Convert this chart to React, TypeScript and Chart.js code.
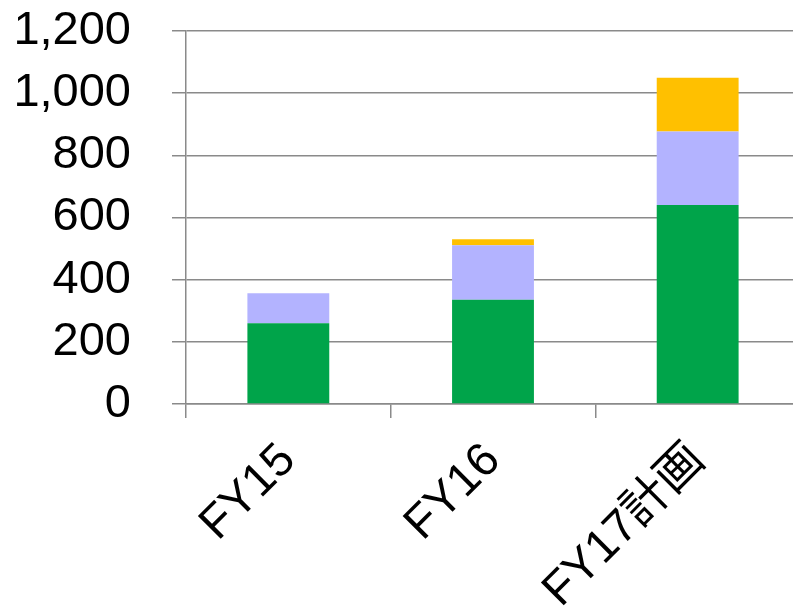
import React, { useEffect, useRef } from "react";
import { Chart, registerables } from "chart.js";

Chart.register(...registerables);

const categories = ["FY15", "FY16", "FY17計画"];
const greenValues = [260, 335, 640];
const purpleValues = [96, 176, 237];
const orangeValues = [0, 19, 173];
const yTicks = [0, 200, 400, 600, 800, 1000, 1200];

const FONT = "'Liberation Sans', Arial, 'Noto Sans CJK JP', sans-serif";
const GRID = "#8a8a8a";

export default function App() {
  const ref = useRef<HTMLCanvasElement | null>(null);

  useEffect(() => {
    document.body.style.margin = "0";
    document.body.style.overflow = "hidden";
    const canvas = ref.current;
    if (!canvas) return;
    const chart = new Chart(canvas, {
      type: "bar",
      data: {
        labels: categories,
        datasets: [
          { label: "A", data: greenValues, backgroundColor: "#00A44A", borderWidth: 0 },
          { label: "B", data: purpleValues, backgroundColor: "#B3B3FF", borderWidth: 0 },
          { label: "C", data: orangeValues, backgroundColor: "#FFC000", borderWidth: 0 },
        ],
      },
      options: {
        responsive: false,
        animation: false,
        devicePixelRatio: 1,
        layout: { padding: { top: 31, left: 0, right: 0, bottom: 0 } },
        plugins: { legend: { display: false }, tooltip: { enabled: false } },
        datasets: { bar: { barPercentage: 0.4, categoryPercentage: 1 } },
        scales: {
          x: {
            stacked: true,
            grid: {
              offset: true,
              drawOnChartArea: false,
              drawTicks: true,
              tickLength: 14,
              color: GRID,
              lineWidth: 1.5,
            },
            border: { display: true, color: GRID, width: 1.5 },
            ticks: {
              minRotation: 45,
              maxRotation: 45,
              padding: 15,
              color: "#000",
              font: { family: FONT, size: 47 },
            },
            afterFit: (scale: any) => {
              scale.height = 208;
              scale.paddingLeft = 0;
              scale.paddingRight = 0;
            },
          },
          y: {
            stacked: true,
            min: 0,
            max: 1200,
            afterBuildTicks: (scale: any) => {
              scale.ticks = yTicks.map((v) => ({ value: v }));
            },
            grid: {
              drawTicks: true,
              tickLength: 14,
              color: GRID,
              lineWidth: 1.5,
            },
            border: { display: true, color: GRID, width: 1.5 },
            ticks: {
              padding: 41,
              color: "#000",
              font: { family: FONT, size: 47 },
              callback: (v: any) => Number(v).toLocaleString("en-US"),
            },
            afterFit: (scale: any) => {
              scale.width = 186;
              scale.paddingTop = 0;
              scale.paddingBottom = 0;
            },
          },
        },
      },
    });
    return () => chart.destroy();
  }, []);

  return (
    <div style={{ position: "fixed", left: 0, top: 0, width: 793, height: 612, overflow: "hidden", background: "#fff" }}>
      <canvas ref={ref} width={800} height={612} style={{ display: "block" }} />
    </div>
  );
}
